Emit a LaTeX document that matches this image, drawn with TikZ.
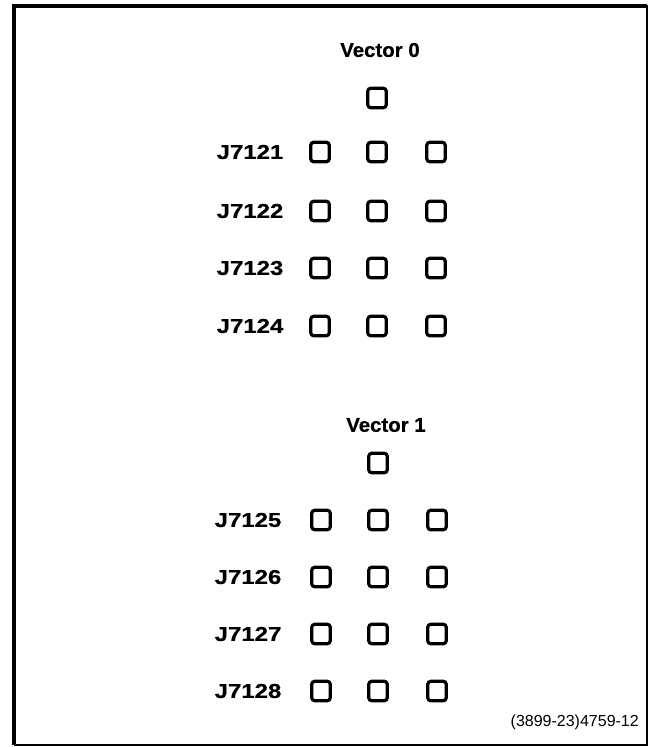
\documentclass[tikz,border=0pt]{standalone}
\usepackage{fontspec}
\setmainfont{Liberation Sans}
\newfontfamily\lblfont[FakeStretch=1.2,FakeBold=0.6]{Liberation Sans Bold}
\newfontfamily\vecfont[FakeStretch=1.02,FakeBold=0.6]{Liberation Sans Bold}
\begin{document}
\begin{tikzpicture}[x=1pt,y=-1pt,
  sw/.style={draw=black,line width=3.2pt,rounded corners=3pt,minimum width=18.5pt,minimum height=19.5pt,inner sep=0pt},
  jlabel/.style={font=\lblfont\fontsize{20}{22}\selectfont,inner sep=0pt},
  vlabel/.style={font=\vecfont\fontsize{20}{22}\selectfont,inner sep=0pt},
  foot/.style={font=\fontsize{16}{18}\selectfont,inner sep=0pt,anchor=east}]
\useasboundingbox (0,0) rectangle (649,747);
\fill[white] (0,0) rectangle (649,747);
% frame
\draw[line width=2pt] (647,5) -- (647,745) -- (14,745);
\draw[line width=4pt] (14,745) -- (14,5.5) -- (647,5.5);
% upper block
\node[vlabel] (v0) at (380,50) {Vector 0};
\node[sw] (v0s) at (377,98) {};
\foreach \r/\y in {1/152,2/211,3/268,4/326}{
  \node[jlabel] (ja\r) at (250,\y) {J712\r};
  \node[sw] (a\r1) at (320,\y) {};
  \node[sw] (a\r2) at (377,\y) {};
  \node[sw] (a\r3) at (436,\y) {};
}
% lower block
\node[vlabel] (v1) at (386,425) {Vector 1};
\node[sw] (v1s) at (378,463) {};
\foreach \r/\n/\y in {1/5/520,2/6/577,3/7/634,4/8/691}{
  \node[jlabel] (jb\r) at (248,\y) {J712\n};
  \node[sw] (b\r1) at (321,\y) {};
  \node[sw] (b\r2) at (378,\y) {};
  \node[sw] (b\r3) at (437,\y) {};
}
\node[foot] (fn) at (639,722) {(3899-23)4759-12};
\end{tikzpicture}
\end{document}
